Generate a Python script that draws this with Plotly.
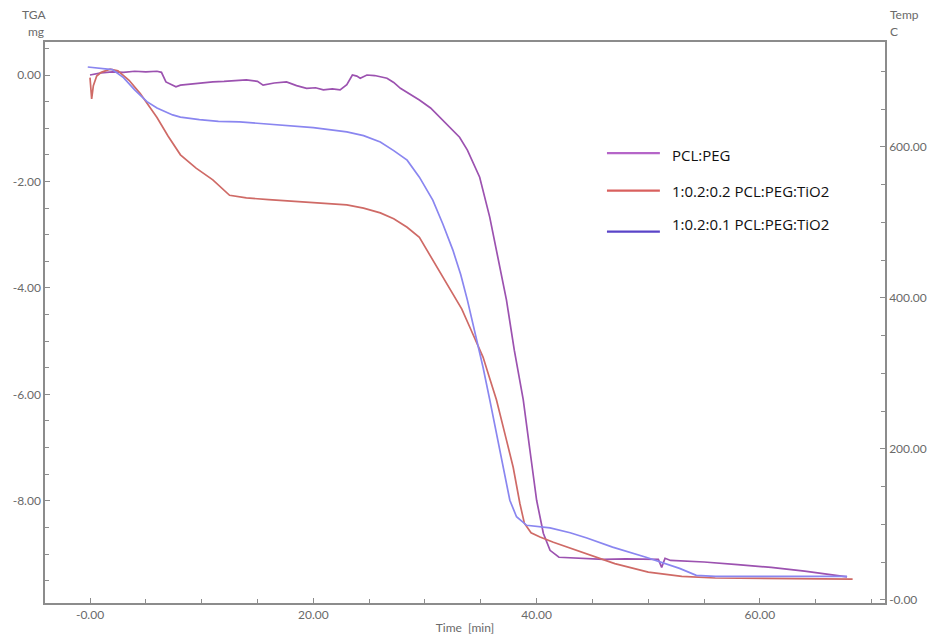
import plotly.graph_objects as go

# ---- data ----
t_pclpeg = [0, 1, 2, 3, 4, 5, 6, 6.4, 6.8, 7.7,
            8.1, 9, 10, 11, 12, 13, 14, 15, 15.5, 16.5,
            17.6, 18.5, 19.4, 20.2, 20.9, 21.7, 22.4, 23, 23.5, 23.9,
            24.2, 24.8, 25.5, 26.6, 27.2, 27.8, 28.6, 29.5, 30.5, 31.3,
            32, 33.1, 33.8, 34.9, 35.8, 36.7, 37.3, 38, 38.8, 39.4,
            40, 40.6, 41.2, 42, 44, 46, 48, 50, 50.9, 51.2,
            51.5, 52, 55, 58, 61, 64, 66, 67.8]
w_pclpeg = [0.0, 0.04, 0.06, 0.05, 0.07, 0.06, 0.07, 0.05, -0.13, -0.22,
            -0.19, -0.17, -0.15, -0.13, -0.12, -0.1, -0.09, -0.12, -0.19, -0.15,
            -0.13, -0.2, -0.25, -0.24, -0.28, -0.26, -0.28, -0.18, 0.0, -0.02,
            -0.06, 0.0, -0.01, -0.06, -0.14, -0.25, -0.35, -0.47, -0.62, -0.79,
            -0.95, -1.17, -1.41, -1.92, -2.67, -3.61, -4.23, -5.17, -6.1, -7.05,
            -7.99, -8.61, -8.93, -9.06, -9.08, -9.1, -9.09, -9.1, -9.1, -9.25,
            -9.08, -9.12, -9.15, -9.2, -9.25, -9.32, -9.38, -9.43]

t_r02 = [0, 0.15, 0.3, 0.6, 1, 1.8, 2.5, 3.5, 4.5, 5.1,
         6, 7, 8.1, 9.5, 11, 12.5, 14, 16, 18, 20,
         22, 23, 24.5, 26, 27.2, 28.4, 29.5, 30.7, 31.6, 32.5,
         33.3, 34, 34.6, 35.2, 35.8, 36.4, 37.3, 37.9, 38.5, 38.9,
         39.5, 40.3, 41.5, 43, 44.3, 46, 47, 50, 53, 56,
         60, 64, 68.3]
w_r02 = [-0.05, -0.45, -0.2, -0.02, 0.05, 0.11, 0.08, -0.1, -0.35, -0.53,
         -0.8, -1.15, -1.5, -1.75, -1.97, -2.26, -2.31, -2.34, -2.37, -2.39,
         -2.42, -2.44, -2.5, -2.59, -2.7, -2.86, -3.05, -3.48, -3.78, -4.1,
         -4.4, -4.73, -5.0, -5.3, -5.7, -6.1, -6.86, -7.37, -8.05, -8.42,
         -8.6, -8.68, -8.78, -8.89, -8.98, -9.1, -9.18, -9.34, -9.42, -9.45,
         -9.46, -9.47, -9.47]

t_r01 = [-0.2, 1, 2, 3, 4, 5.1, 6, 7.4, 8.1, 9.8,
         11.5, 13.4, 17, 20, 23, 24.5, 26, 27.2, 28.4, 29.5,
         30.7, 31.6, 32.5, 33.2, 33.8, 34.6, 35.2, 35.8, 36.4, 37,
         37.6, 38.2, 39.1, 41.2, 43, 44.5, 46.8, 49.8, 52.8, 54.3,
         56, 60, 64, 67.8]
w_r01 = [0.15, 0.13, 0.1, -0.05, -0.28, -0.5, -0.62, -0.75, -0.79, -0.84,
         -0.87, -0.88, -0.94, -0.99, -1.07, -1.14, -1.26, -1.42, -1.6, -1.92,
         -2.35, -2.8, -3.29, -3.75, -4.23, -4.92, -5.49, -6.1, -6.73, -7.37,
         -7.99, -8.3, -8.46, -8.51, -8.6, -8.7, -8.87, -9.06, -9.27, -9.4,
         -9.42, -9.42, -9.42, -9.42]

series_names = ["PCL:PEG", "1:0.2:0.2 PCL:PEG:TiO2", "1:0.2:0.1 PCL:PEG:TiO2"]
line_colors = ["#9c52b0", "#cf6a66", "#8a86f0"]
legend_colors = ["#b565c8", "#d9605e", "#5a44c8"]

x_ticks = [0, 20, 40, 60]
x_ticktext = ["-0.00", "20.00", "40.00", "60.00"]
y_ticks = [0, -2, -4, -6, -8]
y_ticktext = ["0.00", "-2.00", "-4.00", "-6.00", "-8.00"]
y2_ticks = [0, 200, 400, 600]
y2_ticktext = ["-0.00", "200.00", "400.00", "600.00"]

fig = go.Figure()
for tt, ww, col, name in zip([t_pclpeg, t_r02, t_r01], [w_pclpeg, w_r02, w_r01], line_colors, series_names):
    fig.add_trace(go.Scatter(x=tt, y=ww, mode="lines", name=name,
                             line=dict(color=col, width=1.7), showlegend=False))

# invisible trace to activate right axis
fig.add_trace(go.Scatter(x=[None], y=[None], yaxis="y2", showlegend=False))

gray = "#8c8c8c"
fam = "Lato, Open Sans, sans-serif"
tickfont = dict(family=fam, size=12, color="#6a6a6a")

# the page body adds an 8px offset, margins compensate for it
fig.update_layout(
    width=937, height=642,
    margin=dict(l=37, r=60, t=34, b=47, autoexpand=False),
    showlegend=False,
    paper_bgcolor="white", plot_bgcolor="white",
    xaxis=dict(range=[-4.03, 71.2], tickvals=x_ticks, ticktext=x_ticktext, automargin=False,
               showgrid=False, zeroline=False, showline=True, linecolor=gray, linewidth=1.5,
               mirror=True, ticks="inside", ticklen=5, tickcolor=gray, tickfont=tickfont,
               minor=dict(dtick=5, tick0=0, ticks="inside", ticklen=4, tickcolor=gray, showgrid=False),
               title=dict(text="Time  [min]", font=dict(family=fam, size=12, color="#6a6a6a"), standoff=2)),
    yaxis=dict(range=[-9.92, 0.62], tickvals=y_ticks, ticktext=y_ticktext, automargin=False,
               showgrid=False, zeroline=False, showline=True, linecolor=gray, linewidth=1.5,
               ticks="inside", ticklen=5, tickcolor=gray, tickfont=tickfont,
               minor=dict(dtick=0.5, tick0=0, ticks="inside", ticklen=4, tickcolor=gray, showgrid=False)),
    yaxis2=dict(range=[-4, 739], tickvals=y2_ticks, ticktext=y2_ticktext, overlaying="y", side="right",
                automargin=False,
                showgrid=False, zeroline=False, showline=True, linecolor=gray, linewidth=1.5,
                ticks="inside", ticklen=5, tickcolor=gray, tickfont=tickfont,
                minor=dict(dtick=50, tick0=0, ticks="inside", ticklen=4, tickcolor=gray, showgrid=False)),
)

# axis unit labels
lab = dict(family=fam, size=12, color="#6a6a6a")
fig.add_annotation(text="TGA", xref="paper", yref="paper", x=0.003, y=1.0, yshift=28, xanchor="right", yanchor="middle", showarrow=False, font=lab)
fig.add_annotation(text="mg", xref="paper", yref="paper", x=0.001, y=1.0, yshift=11, xanchor="right", yanchor="middle", showarrow=False, font=lab)
fig.add_annotation(text="Temp", xref="paper", yref="paper", x=1.003, y=1.0, yshift=28, xanchor="left", yanchor="middle", showarrow=False, font=lab)
fig.add_annotation(text="C", xref="paper", yref="paper", x=1.003, y=1.0, yshift=11, xanchor="left", yanchor="middle", showarrow=False, font=lab)

# legend drawn manually
leg_y = [0.802, 0.735, 0.662]
txt_y = [0.798, 0.735, 0.676]
for name, col, ly, ty in zip(series_names, legend_colors, leg_y, txt_y):
    fig.add_shape(type="line", xref="paper", yref="paper", x0=0.669, x1=0.732, y0=ly, y1=ly,
                  line=dict(color=col, width=2.2))
    fig.add_annotation(text=name, xref="paper", yref="paper", x=0.744, y=ty, xanchor="left", yanchor="middle",
                       showarrow=False, font=dict(family="Open Sans, sans-serif", size=15, color="#111111"))

fig.write_html("out.html")
